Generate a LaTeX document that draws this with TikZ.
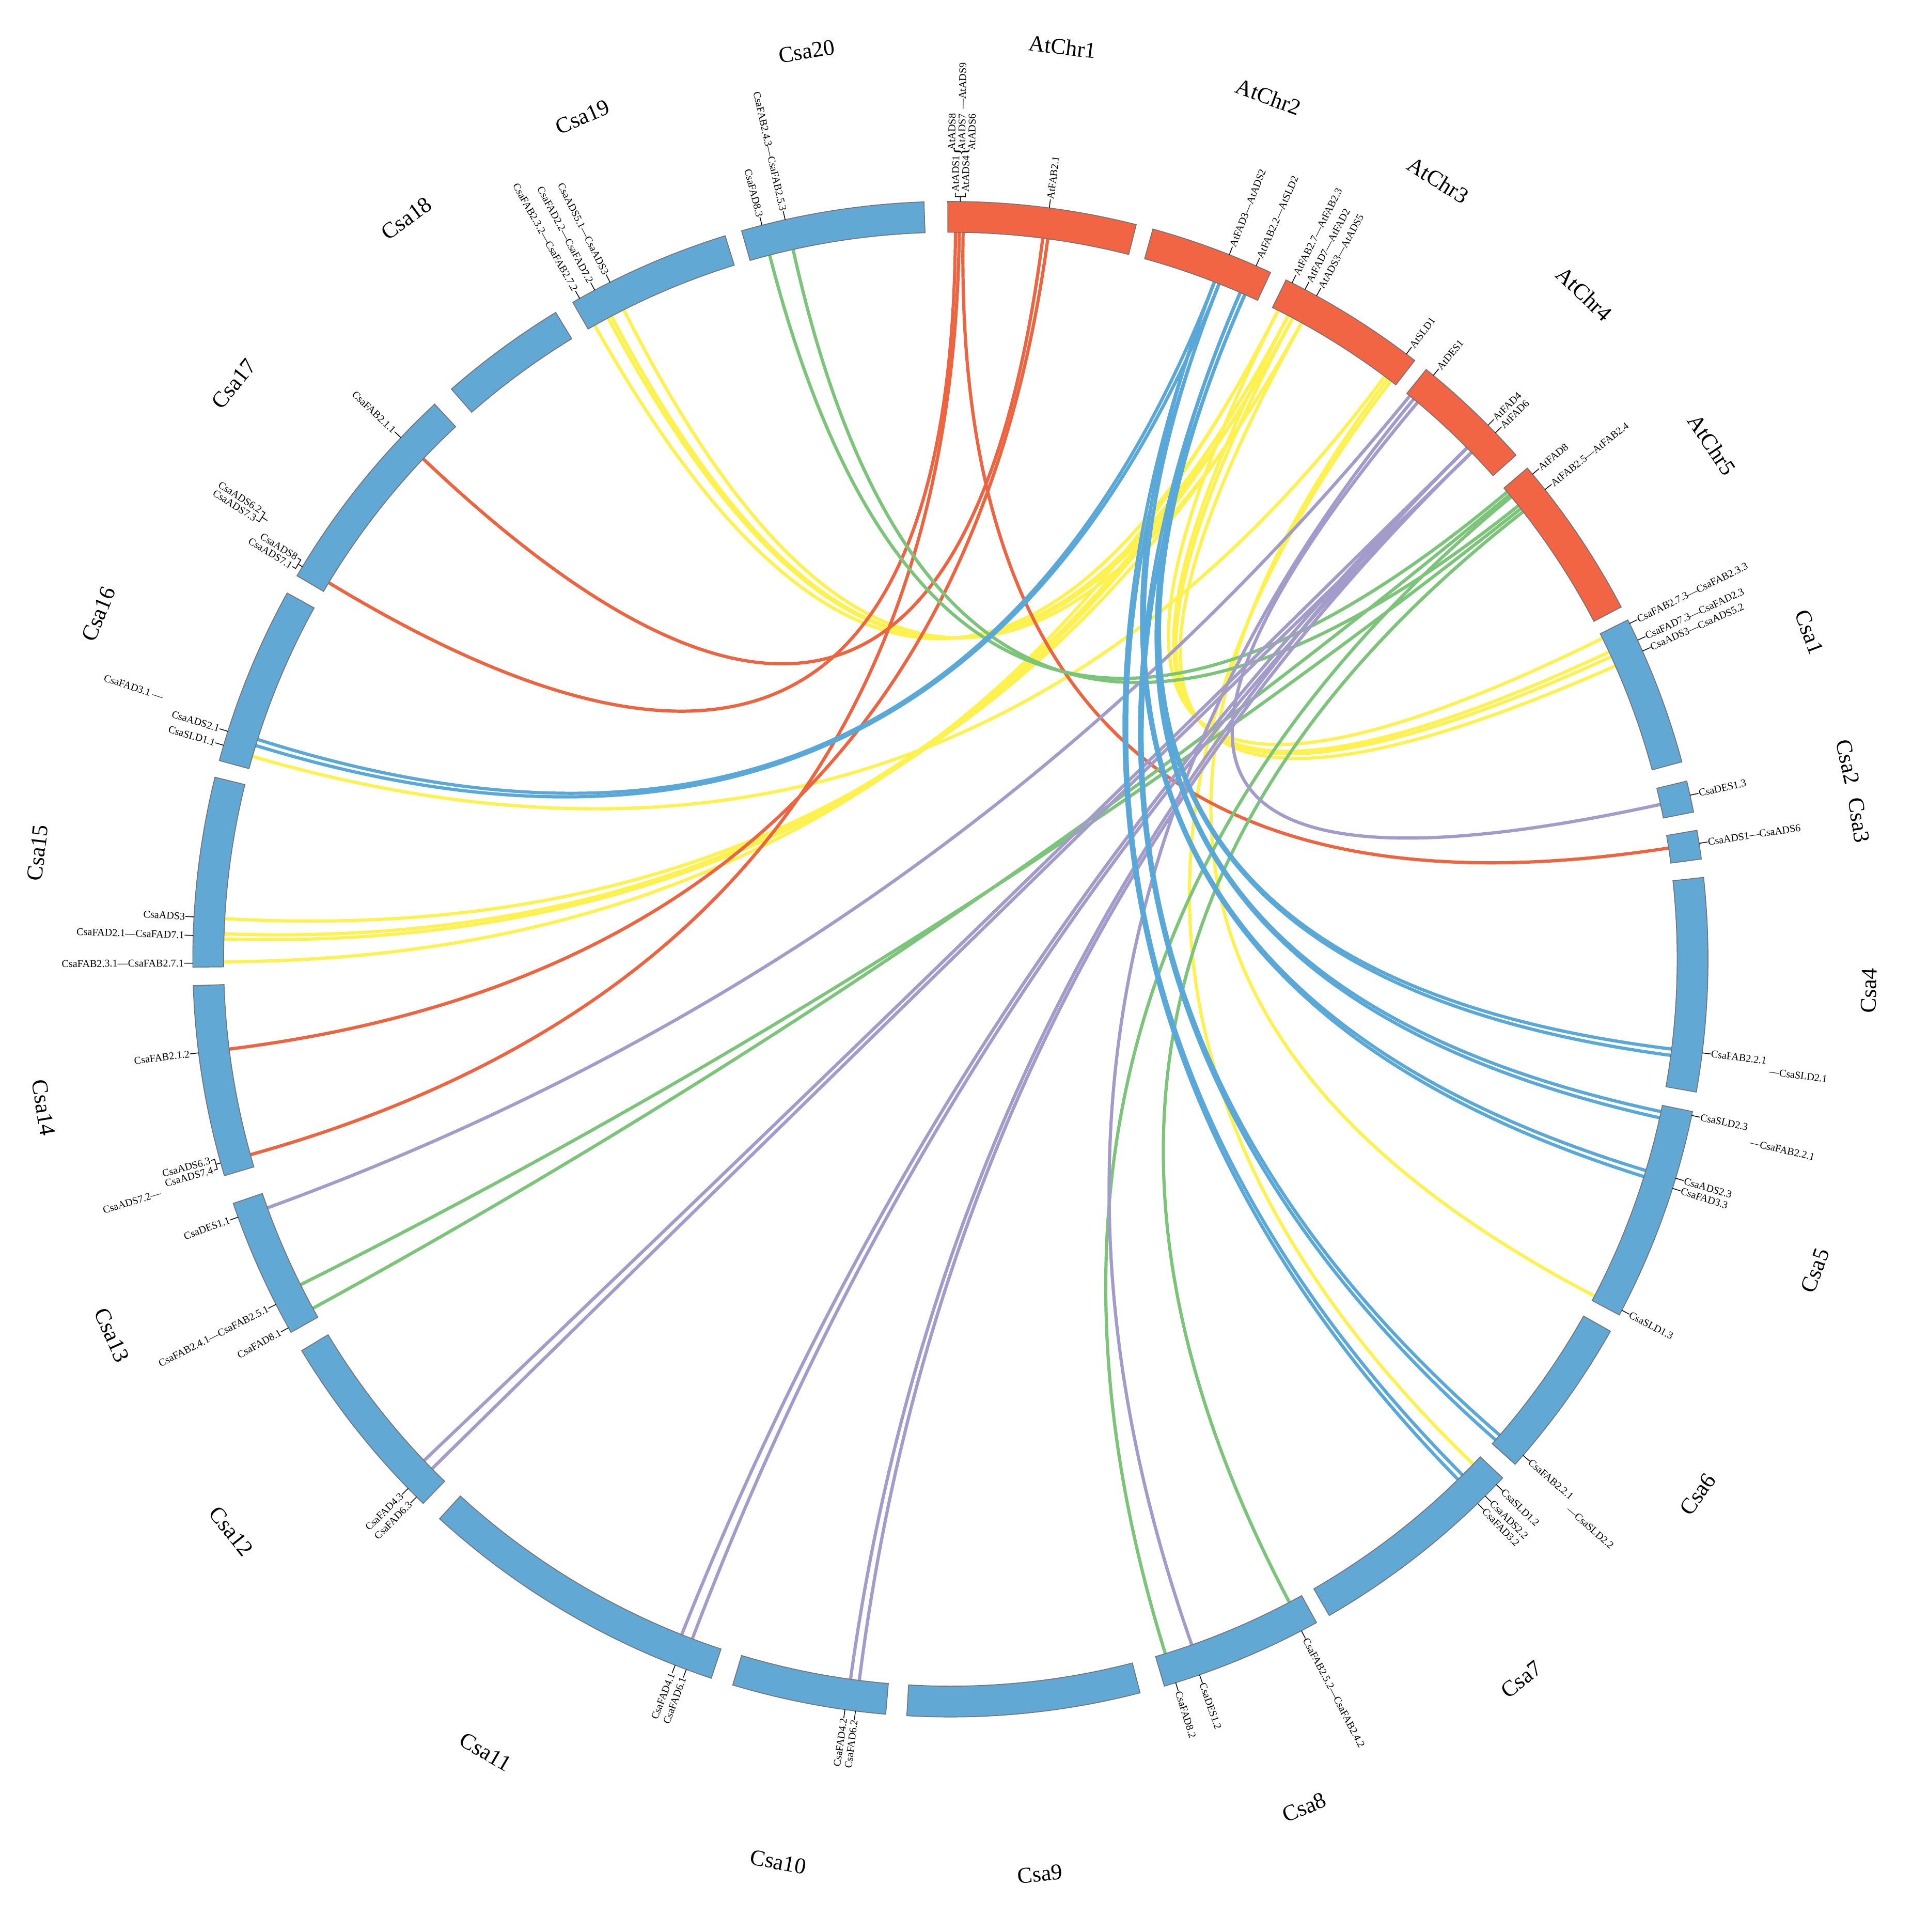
\documentclass[tikz,border=0pt]{standalone}
\usepackage{fontspec}
\setmainfont{Liberation Serif}
\usetikzlibrary{calc}
\definecolor{cb}{HTML}{62A8D4}
\definecolor{cr}{HTML}{F26544}
\definecolor{lr}{HTML}{EC6440}
\definecolor{ly}{HTML}{FFF250}
\definecolor{lg}{HTML}{7BC47A}
\definecolor{lb}{HTML}{5AA8D8}
\definecolor{lp}{HTML}{A39CCB}
\newcommand\mychr[4]{\draw[chromo,fill=#4] (#2:590) arc[start angle=#2,end angle=#3,radius=590] -- (#3:615) arc[start angle=#3,end angle=#2,radius=615] -- cycle;}
\newcommand\mypt[2]{\coordinate (#1) at (#2:590);}
\newcommand\mylk[3]{\draw[lk,#1] (#2) .. controls ($(O)!0.3333!(#2)$) and ($(O)!0.3333!(#3)$) .. (#3);}
\newcommand\glr[3]{\draw[gtick] (#1:615) -- (#1:622); \node[gl,anchor=west,rotate=#1] (#2) at (#1:621.5) {#3};}
\newcommand\gll[3]{\draw[gtick] (#1:615) -- (#1:622); \node[gl,anchor=east,rotate=#1+180] (#2) at (#1:621.5) {#3};}
\newcommand\chlab[4]{\node[chl,rotate=#3] (#1) at (#2:746) {#4};}
\tikzset{
  chromo/.style={draw=black!55,line width=0.5pt},
  gtick/.style={line width=0.45pt,black},
  gl/.style={font=\fontsize{6}{5.8}\selectfont,inner sep=0.4pt},
  chl/.style={font=\fontsize{13}{13}\selectfont,inner sep=0pt},
  lk/.style={line width=1.85pt}
}
\begin{document}
\begin{tikzpicture}[x=0.25mm,y=0.25mm]
\useasboundingbox (-771.5,-789.5) rectangle (793.5,778.5);
\fill[white] (-771.5,-789.5) rectangle (793.5,778.5);
\coordinate (O) at (0,0);
% ---------- link end points ----------
\mypt{rA1}{89.0}\mypt{rA2}{89.3}\mypt{rA3}{89.6}
\mypt{rF1}{82.3}\mypt{rF2}{82.7}
\mypt{rC3}{8.8}\mypt{rC14a}{195.6}\mypt{rC17a}{148.8}\mypt{rC17f}{136.5}\mypt{rC14f}{187.1}
\mypt{bD1}{68.7}\mypt{bD2}{68.3}\mypt{bF1}{66.5}\mypt{bF2}{66.1}
\mypt{b16a}{162.4}\mypt{b16b}{162.9}
\mypt{b4a}{-7.1}\mypt{b4b}{-7.6}
\mypt{b5a}{-12.1}\mypt{b5b}{-12.6}
\mypt{b5c}{-16.9}\mypt{b5d}{-17.4}
\mypt{b6a}{-40.9}\mypt{b6b}{-41.4}
\mypt{b7a}{-45.2}\mypt{b7b}{-45.7}
\mypt{yF}{63.2}\mypt{yD1}{62.3}\mypt{yD2}{61.9}\mypt{yA}{61.1}
\mypt{yS1}{53.0}\mypt{yS2}{53.3}\mypt{yS3}{52.7}
\mypt{y19f}{119.3}\mypt{y19d1}{118.1}\mypt{y19d2}{117.8}\mypt{y19a}{116.7}
\mypt{y1f}{26.2}\mypt{y1d1}{25.0}\mypt{y1d2}{24.6}\mypt{y1a}{23.8}
\mypt{y15a}{176.8}\mypt{y15d1}{178.0}\mypt{y15d2}{178.4}\mypt{y15f}{180.2}
\mypt{y16s}{163.8}\mypt{y5s}{-27.6}\mypt{y7s}{-44.0}
\mypt{pD1}{50.0}\mypt{pD2}{50.4}\mypt{pD3}{50.8}
\mypt{pF1}{44.7}\mypt{pF2}{44.2}
\mypt{p13}{200.0}\mypt{p2}{12.3}\mypt{p8}{-70.6}
\mypt{p12a}{223.6}\mypt{p12b}{224.5}\mypt{p11a}{248.3}\mypt{p11b}{249.2}\mypt{p10a}{262.1}\mypt{p10b}{262.8}
\mypt{gD1}{40.0}\mypt{gD2}{39.7}\mypt{gD3}{39.5}
\mypt{gF1}{38.6}\mypt{gF2}{38.3}\mypt{gF3}{38.0}
\mypt{g20d}{104.4}\mypt{g20f}{102.5}\mypt{g13f}{206.6}\mypt{g13d}{208.7}\mypt{g8d}{-72.8}\mypt{g8f}{-62.2}
% ---------- links ----------
\mylk{ly}{y19f}{yF}\mylk{ly}{y19d1}{yD1}\mylk{ly}{y19d2}{yD2}\mylk{ly}{y19a}{yA}
\mylk{ly}{y1f}{yF}\mylk{ly}{y1d1}{yD1}\mylk{ly}{y1d2}{yD2}\mylk{ly}{y1a}{yA}
\mylk{ly}{y15a}{yA}\mylk{ly}{y15d1}{yD1}\mylk{ly}{y15d2}{yD2}\mylk{ly}{y15f}{yF}
\mylk{ly}{y16s}{yS2}\mylk{ly}{y5s}{yS1}\mylk{ly}{y7s}{yS3}
\mylk{lr}{rA1}{rC3}\mylk{lr}{rA2}{rC14a}\mylk{lr}{rA3}{rC17a}\mylk{lr}{rF1}{rC14f}\mylk{lr}{rF2}{rC17f}
\mylk{lg}{gD1}{g20d}\mylk{lg}{gF1}{g20f}\mylk{lg}{gD2}{g13d}\mylk{lg}{gF2}{g13f}\mylk{lg}{gD3}{g8d}\mylk{lg}{gF3}{g8f}
\mylk{lp}{pD3}{p13}\mylk{lp}{pD1}{p2}\mylk{lp}{pD2}{p8}
\mylk{lp}{pF1}{p12a}\mylk{lp}{pF2}{p12b}\mylk{lp}{pF1}{p11a}\mylk{lp}{pF2}{p11b}\mylk{lp}{pF1}{p10a}\mylk{lp}{pF2}{p10b}
\mylk{lb}{bD1}{b16a}\mylk{lb}{bD2}{b16b}
\mylk{lb}{bF2}{b4a}\mylk{lb}{bF1}{b4b}
\mylk{lb}{bF2}{b5a}\mylk{lb}{bF1}{b5b}
\mylk{lb}{bD2}{b5c}\mylk{lb}{bD1}{b5d}
\mylk{lb}{bF2}{b6a}\mylk{lb}{bF1}{b6b}
\mylk{lb}{bD2}{b7a}\mylk{lb}{bD1}{b7b}
% ---------- chromosomes ----------
\mychr{AtChr1}{90.2}{75.8}{cr}
\mychr{AtChr2}{74.5}{65.0}{cr}
\mychr{AtChr3}{63.7}{52.2}{cr}
\mychr{AtChr4}{51.1}{41.7}{cr}
\mychr{AtChr5}{40.4}{27.7}{cr}
\mychr{Csa1}{26.6}{15.1}{cb}
\mychr{Csa2}{13.6}{11.2}{cb}
\mychr{Csa3}{9.8}{7.6}{cb}
\mychr{Csa4}{6.2}{-10.1}{cb}
\mychr{Csa5}{-11.6}{-28}{cb}
\mychr{Csa6}{-29.4}{-41.8}{cb}
\mychr{Csa7}{-43.2}{-60}{cb}
\mychr{Csa8}{-61.1}{-73.6}{cb}
\mychr{Csa9}{-75.5}{-93.3}{cb}
\mychr{Csa10}{-94.9}{-106.7}{cb}
\mychr{Csa11}{-108.4}{-132.4}{cb}
\mychr{Csa12}{-134.1}{-148.9}{cb}
\mychr{Csa13}{-150.5}{-161.2}{cb}
\mychr{Csa14}{-163.4}{-178}{cb}
\mychr{Csa15}{-179.4}{-193.9}{cb}
\mychr{Csa16}{164.8}{151.1}{cb}
\mychr{Csa17}{149.6}{132.9}{cb}
\mychr{Csa18}{131.2}{121.4}{cb}
\mychr{Csa19}{119.9}{107.3}{cb}
\mychr{Csa20}{106}{92}{cb}
% ---------- chromosome names ----------
\chlab{nAt1}{83.0}{-7.0}{AtChr1}
\chlab{nAt2}{69.75}{-20.25}{AtChr2}
\chlab{nAt3}{57.95}{-32.05}{AtChr3}
\chlab{nAt4}{46.4}{-43.6}{AtChr4}
\chlab{nAt5}{34.05}{-55.95}{AtChr5}
\chlab{nC1}{20.85}{-69.15}{Csa1}
\chlab{nC2}{12.4}{-77.6}{Csa2}
\chlab{nC3}{8.7}{-81.3}{Csa3}
\chlab{nC4}{-1.95}{88.05}{Csa4}
\chlab{nC5}{-19.8}{70.2}{Csa5}
\chlab{nC6}{-35.6}{54.4}{Csa6}
\chlab{nC7}{-51.6}{38.4}{Csa7}
\chlab{nC8}{-67.35}{22.65}{Csa8}
\chlab{nC9}{-84.4}{5.6}{Csa9}
\chlab{nC10}{-100.8}{-10.8}{Csa10}
\chlab{nC11}{-120.4}{-30.4}{Csa11}
\chlab{nC12}{-141.5}{-51.5}{Csa12}
\chlab{nC13}{-155.85}{-65.85}{Csa13}
\chlab{nC14}{-170.7}{-80.7}{Csa14}
\chlab{nC15}{173.35}{83.35}{Csa15}
\chlab{nC16}{157.95}{67.95}{Csa16}
\chlab{nC17}{141.25}{51.25}{Csa17}
\chlab{nC18}{126.3}{36.3}{Csa18}
\chlab{nC19}{113.6}{23.6}{Csa19}
\chlab{nC20}{99}{9}{Csa20}
% ---------- gene labels, right half ----------
\draw[gtick] (89.25:615) -- (89.25:619);
\draw[gtick] (88.87:622) -- (88.87:619) -- (89.63:619) -- (89.63:622);
\node[gl,anchor=west,rotate=89.25,align=left] (tADS14) at (89.25:622) {AtADS1\\AtADS4};
\node[gl,anchor=west,rotate=89.2,font=\fontsize{11}{11}\selectfont] (tbr) at (89.2:651) {\{};
\node[gl,anchor=west,rotate=89.2,align=left] (tADS876) at (89.2:656) {AtADS8\\AtADS7\\AtADS6};
\node[gl,anchor=west,rotate=89.2] (tADS9) at (89.2:689) {—AtADS9};
\glr{82.5}{tFAB21}{AtFAB2.1}
\glr{68.4}{tFAD3}{AtFAD3—AtADS2}
\glr{66.2}{tFAB22}{AtFAB2.2—AtSLD2}
\glr{63.2}{tFAB27}{AtFAB2.7—AtFAB2.3}
\glr{62.1}{tFAD7}{AtFAD7—AtFAD2}
\glr{61.1}{tADS3}{AtADS3—AtADS5}
\glr{53.0}{tSLD1}{AtSLD1}
\glr{50.4}{tDES1}{AtDES1}
\glr{44.8}{tFAD4}{AtFAD4}
\glr{44.0}{tFAD6}{AtFAD6}
\glr{39.8}{tFAD8}{AtFAD8}
\glr{38.3}{tFAB25}{AtFAB2.5—AtFAB2.4}
\glr{26.3}{c1FAB}{CsaFAB2.7.3—CsaFAB2.3.3}
\glr{24.9}{c1FAD}{CsaFAD7.3—CsaFAD2.3}
\glr{24.0}{c1ADS}{CsaADS3—CsaADS5.2}
\glr{12.5}{c2DES}{CsaDES1.3}
\glr{8.8}{c3ADS}{CsaADS1—CsaADS6}
\glr{-7.1}{c4FAB}{CsaFAB2.2.1}
\node[gl,anchor=west,rotate=-7.8] (c4SLD) at (-7.8:670) {—CsaSLD2.1};
\glr{-11.9}{c5SLD}{CsaSLD2.3}
\node[gl,anchor=west,rotate=-12.9] (c5FAB) at (-12.9:665) {—CsaFAB2.2.1};
\glr{-16.8}{c5ADS}{CsaADS2.3}
\glr{-17.6}{c5FAD}{CsaFAD3.3}
\glr{-27.6}{c5SLD1}{CsaSLD1.3}
\glr{-40.9}{c6FAB}{CsaFAB2.2.1}
\node[gl,anchor=west,rotate=-41.6] (c6SLD) at (-41.6:670) {—CsaSLD2.2};
\glr{-43.9}{c7SLD}{CsaSLD1.2}
\glr{-45.1}{c7ADS}{CsaADS2.2}
\glr{-45.9}{c7FAD}{CsaFAD3.2}
\glr{-62.4}{c8FAB}{CsaFAB2.5.2—CsaFAB2.4.2}
\glr{-70.8}{c8DES}{CsaDES1.2}
\glr{-72.7}{c8FAD}{CsaFAD8.2}
% ---------- gene labels, left half ----------
\gll{262.0}{c10a}{CsaFAD4.2}
\gll{262.8}{c10b}{CsaFAD6.2}
\gll{248.7}{c11a}{CsaFAD4.1}
\gll{249.6}{c11b}{CsaFAD6.1}
\gll{224.3}{c12a}{CsaFAD4.3}
\gll{225.2}{c12b}{CsaFAD6.3}
\gll{199.9}{c13DES}{CsaDES1.1}
\gll{207.1}{c13FAB}{CsaFAB2.4.1—CsaFAB2.5.1}
\gll{209.1}{c13FAD}{CsaFAD8.1}
\gll{187.1}{c14FAB}{CsaFAB2.1.2}
\draw[gtick] (195.6:615) -- (195.6:619);
\draw[gtick] (195.22:622) -- (195.22:619) -- (195.98:619) -- (195.98:622);
\node[gl,anchor=east,rotate=15.6,align=right] (c14ADS) at (195.6:622) {CsaADS6.3\\CsaADS7.4};
\node[gl,anchor=east,rotate=16.5] (c14ADS72) at (196.5:668) {CsaADS7.2—};
\gll{176.8}{c15ADS}{CsaADS3}
\gll{178.2}{c15FAD}{CsaFAD2.1—CsaFAD7.1}
\gll{180.3}{c15FAB}{CsaFAB2.3.1—CsaFAB2.7.1}
\gll{162.5}{c16ADS}{CsaADS2.1}
\gll{163.6}{c16SLD}{CsaSLD1.1}
\node[gl,anchor=east,rotate=341.6] (c16FAD) at (161.6:673) {CsaFAD3.1 —};
\gll{136.5}{c17FAB}{CsaFAB2.1.1}
\draw[gtick] (148.8:615) -- (148.8:619);
\draw[gtick] (148.42:622) -- (148.42:619) -- (149.18:619) -- (149.18:622);
\node[gl,anchor=east,rotate=328.8,align=right] (c17ADSa) at (148.8:622) {CsaADS8\\CsaADS7.1};
\draw[gtick] (147.3:659) -- (147.3:664);
\draw[gtick] (146.93:667) -- (146.93:664) -- (147.67:664) -- (147.67:667);
\node[gl,anchor=east,rotate=327.3,align=right] (c17ADSb) at (147.3:667) {CsaADS6.2\\CsaADS7.3};
\gll{119.3}{c19FAB}{CsaFAB2.3.2—CsaFAB2.7.2}
\gll{118.0}{c19FAD}{CsaFAD2.2—CsaFAD7.2}
\gll{116.7}{c19ADS}{CsaADS5.1—CsaADS3}
\gll{104.4}{c20FAD}{CsaFAD8.3}
\gll{102.6}{c20FAB}{CsaFAB2.4.3—CsaFAB2.5.3}
\end{tikzpicture}
\end{document}
